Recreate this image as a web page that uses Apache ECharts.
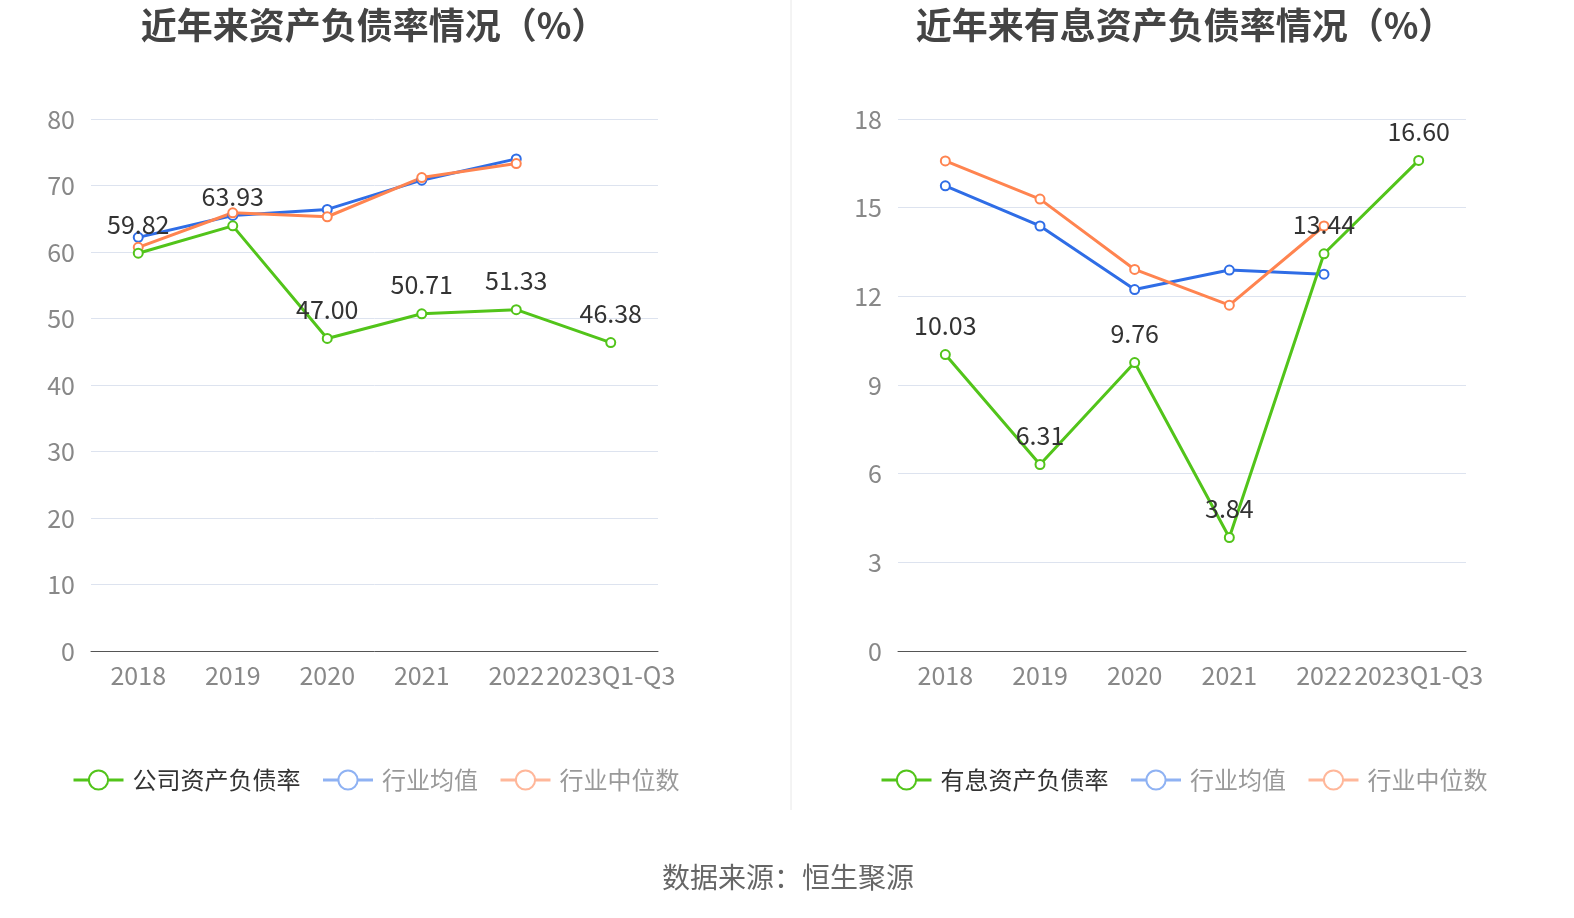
<!DOCTYPE html>
<html><head><meta charset="utf-8">
<script src="https://cdn.jsdelivr.net/npm/echarts@6/dist/echarts.min.js"></script>
<style>html,body{margin:0;padding:0;background:#fff;}#c{width:1574px;height:918px;}</style>
</head><body><div id="c"></div>
<script>
const categories = ['2018','2019','2020','2021','2022','2023Q1-Q3'];
const leftCompany = [59.82, 63.93, 47.00, 50.71, 51.33, 46.38];
const leftAvg = [62.2, 65.5, 66.4, 70.8, 74.0, null];
const leftMedian = [60.7, 65.9, 65.3, 71.2, 73.3, null];
const rightCompany = [10.03, 6.31, 9.76, 3.84, 13.44, 16.60];
const rightAvg = [15.74, 14.38, 12.23, 12.89, 12.75, null];
const rightMedian = [16.58, 15.29, 12.91, 11.70, 14.38, null];
const leftTicks = {min:0, max:80, interval:10};
const rightTicks = {min:0, max:18, interval:3};

const GREEN='#52C41A', BLUE='#2F6DE6', ORANGE='#FF8450';
const FONT='"Noto Sans CJK SC","Noto Sans",sans-serif';
const chart = echarts.init(document.getElementById('c'));

function xAxis(gi){return {type:'category',gridIndex:gi,data:categories,boundaryGap:true,
  axisLine:{lineStyle:{color:'#555',width:1}},axisTick:{alignWithLabel:true,length:6,lineStyle:{color:'#555'}},
  axisLabel:{color:'#888',fontSize:25,margin:12,fontFamily:FONT,interval:0}};}
function yAxis(gi,t){return {type:'value',gridIndex:gi,min:t.min,max:t.max,interval:t.interval,
  axisLine:{show:false},axisTick:{show:false},
  axisLabel:{color:'#888',fontSize:25,margin:16,fontFamily:FONT},
  splitLine:{lineStyle:{color:'#dde3ef',width:1}}};}
function line(name,data,color,gi,label){return {name,type:'line',xAxisIndex:gi,yAxisIndex:gi,data,
  symbol:'emptyCircle',symbolSize:9,lineStyle:{width:3,color},itemStyle:{color,borderWidth:3},
  label:label?{show:true,position:'top',distance:11,color:'#333',fontSize:25,fontFamily:FONT,formatter:p=>p.value.toFixed(2)}:{show:false},
  z:label?3:2};}
function item(name,c,tc){return {name,itemStyle:{color:c,borderColor:c,borderWidth:3.5},lineStyle:{color:c,width:3},textStyle:{color:tc}};}
function legend(left,first){return {left,top:768,padding:0,itemWidth:50,itemHeight:24,itemGap:21,
  textStyle:{fontSize:24,fontFamily:FONT,color:'#333',padding:[0,0,0,4]},
  data:[item(first,GREEN,'#333'),item('行业均值','#8fb2f3','#999'),item('行业中位数','#ffb79a','#999')]};}

chart.setOption({
  animation:false,
  title:[
    {text:'近年来资产负债率情况（%）',left:369,top:2,textAlign:'center',textStyle:{fontSize:36,fontWeight:'bold',color:'#444',fontFamily:FONT}},
    {text:'近年来有息资产负债率情况（%）',left:1180,top:2,textAlign:'center',textStyle:{fontSize:36,fontWeight:'bold',color:'#444',fontFamily:FONT}},
    {text:'数据来源：恒生聚源',left:783,top:858,textAlign:'center',textStyle:{fontSize:28,fontWeight:'normal',color:'#666',fontFamily:FONT}}
  ],
  graphic:[{type:'line',shape:{x1:791,y1:0,x2:791,y2:810},style:{stroke:'#e8e8e8',lineWidth:1}}],
  legend:[legend(72,'公司资产负债率'),legend(880,'有息资产负债率')],
  grid:[{left:91,top:119,width:567,height:532,outerBoundsMode:'none'},{left:898,top:119,width:568,height:532,outerBoundsMode:'none'}],
  xAxis:[xAxis(0),xAxis(1)],
  yAxis:[yAxis(0,leftTicks),yAxis(1,rightTicks)],
  series:[
    line('行业均值',leftAvg,BLUE,0,false),
    line('行业中位数',leftMedian,ORANGE,0,false),
    line('公司资产负债率',leftCompany,GREEN,0,true),
    line('行业均值',rightAvg,BLUE,1,false),
    line('行业中位数',rightMedian,ORANGE,1,false),
    line('有息资产负债率',rightCompany,GREEN,1,true)
  ]
});
</script></body></html>
